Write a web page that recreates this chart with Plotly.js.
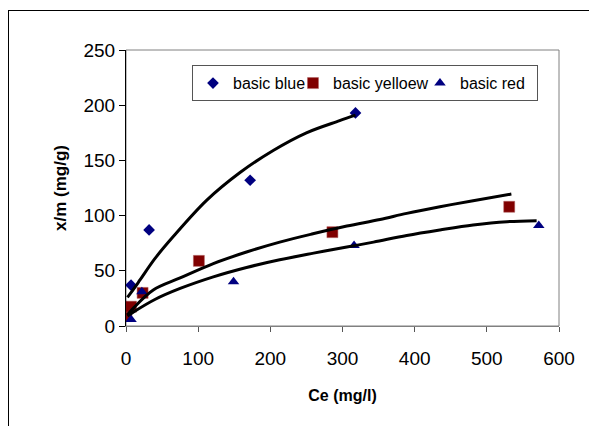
<!DOCTYPE html>
<html>
<head>
<meta charset="utf-8">
<script src="https://cdn.plot.ly/plotly-3.0.1.min.js"></script>
<style>
html,body{margin:0;padding:0;overflow:hidden;background:#fff;}
#frame{position:absolute;left:8px;top:10px;width:620px;height:460px;border:1px solid #000;pointer-events:none;z-index:5;}
#chart{position:absolute;left:0;top:0;width:589px;height:426px;}
</style>
</head>
<body>
<div id="chart"></div>
<div id="frame"></div>
<script>
// Measured points
const blueX = [0.5, 7, 32, 172, 318];
const blueY = [17.5, 37, 87, 132, 193];
const yellowX = [0.5, 7, 23, 101, 286, 531];
const yellowY = [9, 17.5, 30, 59, 85, 108];
const redX = [7, 22, 149, 316, 572];
const redY = [6, 31, 40, 73, 91];

// Fitted curves
const blueFitX = [2, 10, 19.4, 40, 65.5, 112, 158, 204, 250, 296, 318];
const blueFitY = [26, 33, 41.7, 61, 81, 114, 139, 159, 175, 186, 191];
const yellowFitX = [2, 10, 37.8, 75, 121, 167, 213, 259, 306, 352, 389, 435, 481, 534];
const yellowFitY = [10, 16, 32.6, 43.5, 56.5, 67, 76, 83.5, 90.5, 96.5, 102, 108, 113.5, 119.5];
const redFitX = [2, 10, 40, 75, 121, 167, 213, 260, 306, 343, 389, 435, 481, 528, 569];
const redFitY = [9, 12.5, 24, 34, 44.5, 53, 60, 66, 71.5, 76, 82, 87, 91.5, 94.5, 95.4];

const names = ['basic blue', 'basic yelloew', 'basic red'];
const FONT = 'Liberation Sans, Arial, sans-serif';

const lineStyle = {color: '#000', width: 3, shape: 'spline', smoothing: 1};

const traces = [
  {x: blueX, y: blueY, name: names[0], type: 'scatter', mode: 'markers', legendwidth: 55,
   marker: {symbol: 'diamond', size: 9, color: '#000080', line: {width: 0}}},
  {x: yellowX, y: yellowY, name: names[1], type: 'scatter', mode: 'markers', legendwidth: 82,
   marker: {symbol: 'square', size: 11, color: '#800000', line: {width: 0.5, color: '#b06060'}}},
  {x: redX, y: redY, name: names[2], type: 'scatter', mode: 'markers', legendwidth: 72,
   marker: {symbol: 'triangle-up', size: 10, color: '#000080', line: {width: 0}}},
  {x: blueFitX, y: blueFitY, type: 'scatter', mode: 'lines', line: lineStyle, showlegend: false, hoverinfo: 'skip'},
  {x: yellowFitX, y: yellowFitY, type: 'scatter', mode: 'lines', line: lineStyle, showlegend: false, hoverinfo: 'skip'},
  {x: redFitX, y: redFitY, type: 'scatter', mode: 'lines', line: lineStyle, showlegend: false, hoverinfo: 'skip'}
];

const layout = {
  width: 589, height: 426,
  margin: {l: 126, r: 30, t: 50, b: 100},
  paper_bgcolor: '#fff', plot_bgcolor: '#fff',
  font: {family: FONT, color: '#000'},
  showlegend: true,
  legend: {
    orientation: 'h', x: 0.1524, y: 0.945, xanchor: 'left', yanchor: 'top',
    bgcolor: '#fff', bordercolor: '#555', borderwidth: 1,
    font: {family: FONT, size: 16, color: '#000'},
    itemwidth: 30, entrywidthmode: 'pixels'
  },
  xaxis: {
    range: [0, 600], dtick: 100, tick0: 0,
    showgrid: false, zeroline: false,
    showline: true, linecolor: '#808080', linewidth: 1,
    ticks: 'outside', ticklen: 5, tickcolor: '#555',
    ticklabelstandoff: 10,
    tickfont: {family: FONT, size: 19, color: '#000'},
    title: {text: '<b>Ce (mg/l)</b>', font: {family: FONT, size: 16, color: '#000'}, standoff: 22}
  },
  yaxis: {
    range: [0, 250], dtick: 50, tick0: 0,
    showgrid: false, zeroline: false,
    showline: true, linecolor: '#000', linewidth: 1,
    ticks: 'outside', ticklen: 6, tickcolor: '#000',
    tickfont: {family: FONT, size: 19, color: '#000'},
    title: {text: '<b>x/m (mg/g)</b>', font: {family: FONT, size: 17, color: '#000'}, standoff: 12}
  },
  shapes: [
    {type: 'rect', xref: 'paper', yref: 'paper', x0: 0, x1: 1, y0: 0, y1: 1,
     line: {color: '#808080', width: 1}, layer: 'below'}
  ]
};

Plotly.newPlot('chart', traces, layout, {displayModeBar: false, staticPlot: true});
</script>
</body>
</html>
